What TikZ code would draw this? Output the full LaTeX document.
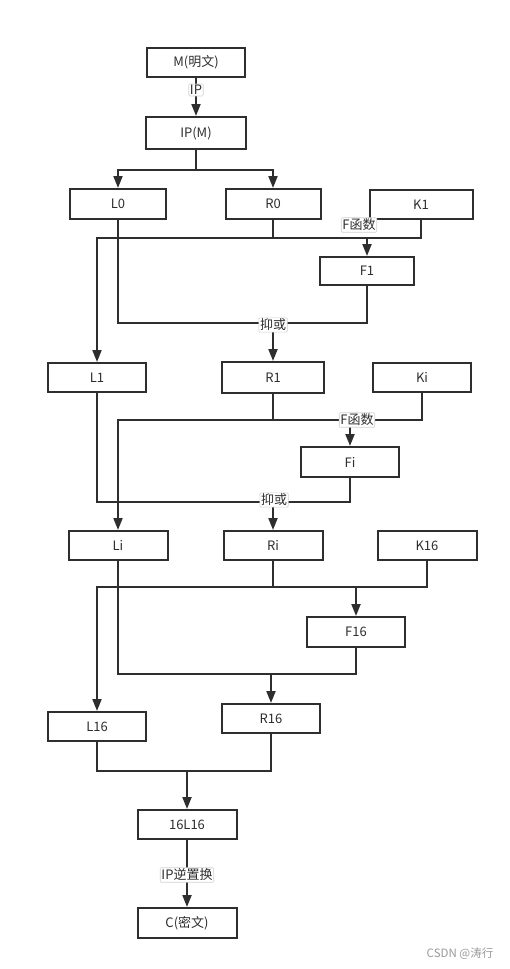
\documentclass[tikz,border=0pt]{standalone}
\usepackage{fontspec}
\setmainfont{Noto Sans CJK SC}
\usetikzlibrary{arrows.meta}
\definecolor{ink}{HTML}{2E2E2E}
\tikzset{
  box/.style={draw=ink, line width=2pt, inner sep=0pt, font=\fontsize{13}{15}\selectfont, text=ink},
  wire/.style={draw=ink, line width=2pt},
  tip/.style={wire, -{Triangle[width=9pt,length=12pt]}},
  lbl/.style={fill=white, draw=gray!35, line width=0.6pt, rounded corners=1pt, inner sep=1.2pt, font=\fontsize{13}{15}\selectfont, text=ink},
}
\begin{document}
\begin{tikzpicture}[x=1pt, y=-1pt]
\useasboundingbox (0,0) rectangle (509,969);
% boxes
\node[box, minimum width=98pt, minimum height=29pt] (M) at (196,62.5) {M(明文)};
\node[box, minimum width=100pt, minimum height=32pt] (IPM) at (196,133) {IP(M)};
\node[box, minimum width=96pt, minimum height=30pt] (L0) at (118,204) {L0};
\node[box, minimum width=95pt, minimum height=30pt] (R0) at (273,204) {R0};
\node[box, minimum width=103pt, minimum height=29pt] (K1) at (421,204.5) {K1};
\node[box, minimum width=94pt, minimum height=28pt] (F1) at (367,271) {F1};
\node[box, minimum width=98pt, minimum height=29pt] (L1) at (97,377.5) {L1};
\node[box, minimum width=102pt, minimum height=31pt] (R1) at (273,377.5) {R1};
\node[box, minimum width=98pt, minimum height=29pt] (Ki) at (422,377.5) {Ki};
\node[box, minimum width=98pt, minimum height=30pt] (Fi) at (350,462) {Fi};
\node[box, minimum width=99pt, minimum height=29pt] (Li) at (118,545.5) {Li};
\node[box, minimum width=99pt, minimum height=29pt] (Ri) at (273,545.5) {Ri};
\node[box, minimum width=99pt, minimum height=29pt] (K16) at (427,545.5) {K16};
\node[box, minimum width=98pt, minimum height=30pt] (F16) at (356,632) {F16};
\node[box, minimum width=98pt, minimum height=29pt] (L16) at (97,726.5) {L16};
\node[box, minimum width=98pt, minimum height=29pt] (R16) at (271,718.5) {R16};
\node[box, minimum width=99pt, minimum height=29pt] (LL) at (187,824.5) {16L16};
\node[box, minimum width=99pt, minimum height=30pt] (C) at (187,923) {C(密文)};
% IP
\draw[tip] (M.south) -- (IPM.north);
\node[lbl] (lip) at (196,90) {IP};
% split
\coordinate (s0) at (196,170);
\draw[wire] (IPM.south) -- (s0);
\draw[tip] (s0) -| (L0.north);
\draw[tip] (s0) -| (R0.north);
% round 1
\coordinate (a1) at (97,238);
\draw[tip] (K1.south) |- (a1) -- (L1.north);
\draw[wire] (R0.south) -- (R0.south |- a1);
\draw[tip] (F1.north |- a1) -- (F1.north);
\node[lbl] (f1l) at (359,225) {F函数};
\coordinate (b1) at (273,323);
\draw[wire] (L0.south) |- (F1.south |- b1) -- (F1.south);
\draw[tip] (b1) -- (R1.north);
\node[lbl] (x1l) at (273,325) {抑或};
% round i
\coordinate (a2) at (118,420);
\draw[tip] (Ki.south) |- (a2) -- (Li.north);
\draw[wire] (R1.south) -- (R1.south |- a2);
\draw[tip] (Fi.north |- a2) -- (Fi.north);
\node[lbl] (f2l) at (357,420) {F函数};
\coordinate (b2) at (273,502);
\draw[wire] (L1.south) |- (Fi.south |- b2) -- (Fi.south);
\draw[tip] (b2) -- (Ri.north);
\node[lbl] (x2l) at (274,500) {抑或};
% round 16
\coordinate (a3) at (97,587);
\draw[tip] (K16.south) |- (a3) -- (L16.north);
\draw[wire] (Ri.south) -- (Ri.south |- a3);
\draw[tip] (F16.north |- a3) -- (F16.north);
\coordinate (b3) at (271,674);
\draw[wire] (Li.south) |- (F16.south |- b3) -- (F16.south);
\draw[tip] (b3) -- (R16.north);
% merge
\coordinate (c0) at (187,771);
\draw[wire] (L16.south) |- (R16.south |- c0) -- (R16.south);
\draw[tip] (c0) -- (LL.north);
\draw[tip] (LL.south) -- (C.north);
\node[lbl] (lipinv) at (187,875) {IP逆置换};
% watermark
\node[text=gray!80, font=\fontsize{11.5}{13}\selectfont, inner sep=0pt] (wm) at (460,954) {CSDN @涛行};
\end{tikzpicture}
\end{document}
